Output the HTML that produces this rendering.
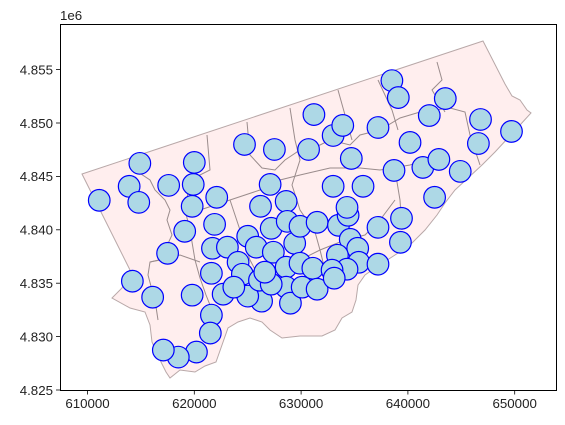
<!DOCTYPE html>
<html><head><meta charset="utf-8">
<style>
html,body{margin:0;padding:0;background:#fff;}
svg{display:block;font-family:"Liberation Sans","DejaVu Sans",sans-serif;}
</style></head>
<body>
<svg id="chart" width="565" height="425" viewBox="0 0 565 425" xmlns="http://www.w3.org/2000/svg">
<rect x="0" y="0" width="565" height="425" fill="#fff"/>
<g id="map">
<path fill="#ffeeee" stroke="#b8a8a8" stroke-width="1"
 d="M82,174 L483,41 L505,84 L512,96 L520,100 L527,110 L531,113 L520,125 L508,138 L495,152 L482,165 L468,178 L455,190 L445,203 L437,215 L425,230 L410,245 L395,255 L378,266 L365,275 L358,285 L356,300 L352,312 L342,318 L335,330 L322,336 L300,336 L282,338 L270,330 L262,322 L250,318 L238,322 L228,328 L222,345 L216,362 L205,366 L195,372 L180,370 L170,378 L166,372 L160,360 L152,342 L150,325 L145,312 L130,308 L112,298 L122,288 L130,270 Z"/>
<g fill="none" stroke="#9a8c8c" stroke-width="1">
<path d="M129,164 L135,170 L150,180 L155,190 L165,200 L170,210 L167,220 L172,235 L165,250 L160,260 L150,262 L148,275 L152,290 L155,300 L158,320"/>
<path d="M207,135 L210,170 L190,180 L185,210 L190,230 L195,260 L200,278 L206,295 L210,305"/>
<path d="M247,122 L250,155 L262,168 L275,170 L285,160 L300,150 L320,145 L330,140 L350,145 L360,135 L380,130 L400,118 L420,112 L450,108 L465,112 L470,135 L480,165"/>
<path d="M338,90 L345,115 L352,140"/>
<path d="M378,80 L392,110 L398,130"/>
<path d="M437,62 L442,80 L432,90 L438,100 L445,112"/>
<path d="M290,108 L295,140 L300,160 L292,185 L300,210 L315,232 L320,250 L325,270"/>
<path d="M200,210 L230,200 L260,190 L280,180 L300,175 L330,168 L360,168 L380,170 L410,165 L440,155"/>
<path d="M230,200 L240,230 L250,260 L258,275"/>
<path d="M395,170 L400,200 L402,230"/>
<path d="M300,260 L320,250 L345,240 L365,235 L380,220 L395,200"/>
<path d="M150,262 L180,255 L200,262"/>
</g>
</g>
<g id="points"></g>
<g id="axes"></g>
</svg>
<script>
const eastings = [611100,614900,613900,614800,617600,620000,619900,619800,622100,624700,627500,627100,626200,628600,
614200,616100,617500,619100,621900,621700,621600,619800,622700,621600,621500,620200,618500,617100,
623100,624100,624500,625000,625800,627200,627400,626300,625000,628700,628600,628600,629000,629400,
626100,627200,623700,626600,630100,629900,631100,631500,629900,631500,633500,634400,634600,635300,
633400,635400,634300,632900,633100,637200,637200,639400,639300,634300,633000,635800,642500,
638500,639100,643500,642000,646800,649700,631200,633000,633900,637200,640200,646600,630700,634700,
638700,641400,642900,644900];
const northings = [4842760,4846220,4844070,4842570,4844160,4846310,4844250,4842200,4843040,4847990,4847520,4844250,4842200,4842660,
4835190,4833690,4837800,4839860,4840510,4838270,4835930,4833880,4833970,4832010,4830330,4828550,4828080,4828740,
4838370,4836960,4835840,4839390,4838370,4840140,4837900,4833320,4833790,4840790,4836500,4834630,4833130,4838740,
4835280,4834910,4834630,4836030,4834630,4836870,4836400,4834440,4840330,4840700,4840420,4841360,4839110,4838270,
4837620,4836960,4836310,4836220,4835470,4840230,4836780,4841080,4838830,4842100,4844070,4844070,4843040,
4853970,4852380,4852290,4850700,4850330,4849210,4850790,4848830,4849770,4849580,4848180,4848080,4847520,4846680,
4845560,4845840,4846590,4845470];
const xTicks = [610000,620000,630000,640000,650000];
const yTicks = [4825000,4830000,4835000,4840000,4845000,4850000,4855000];
const yTickLabels = ["4.825","4.830","4.835","4.840","4.845","4.850","4.855"];

const NS='http://www.w3.org/2000/svg';
const PX=0.01068;
function sx(v){return 87.5+(v-610000)*PX;}
function sy(v){return 390-(v-4825000)*PX;}
function mk(tag,attrs,parent){const e=document.createElementNS(NS,tag);for(const k in attrs)e.setAttribute(k,attrs[k]);parent.appendChild(e);return e;}

const pts=document.getElementById('points');
for(let i=0;i<eastings.length;i++){
  const c=mk('circle',{cx:sx(eastings[i]),cy:sy(northings[i]),r:10.8,fill:'#add8e6',stroke:'#0000ff','stroke-width':1.2},pts);
  
  
}

const ax=document.getElementById('axes');
const frame=mk('rect',{x:60.5,y:24.5,width:496,height:366,fill:'none',stroke:'#000','stroke-width':1},ax);


xTicks.forEach(function(t){
  const x=sx(t);
  mk('line',{x1:x,y1:390.5,x2:x,y2:394.5,stroke:'#000','stroke-width':0.8},ax);
  const tx=mk('text',{x:x,y:408,'text-anchor':'middle','font-size':'13.3px',fill:'#222'},ax);
  tx.textContent=String(t);
  
  
});
yTicks.forEach(function(t,i){
  const y=sy(t);
  mk('line',{x1:56,y1:y,x2:60.5,y2:y,stroke:'#000','stroke-width':0.8},ax);
  const tx=mk('text',{x:53,y:y+4.8,'text-anchor':'end','font-size':'13.3px',fill:'#222'},ax);
  tx.textContent=yTickLabels[i];
  
  
});
const off=mk('text',{x:60,y:20,'font-size':'13.3px',fill:'#222'},ax);
off.textContent='1e6';


</script>
</body></html>
